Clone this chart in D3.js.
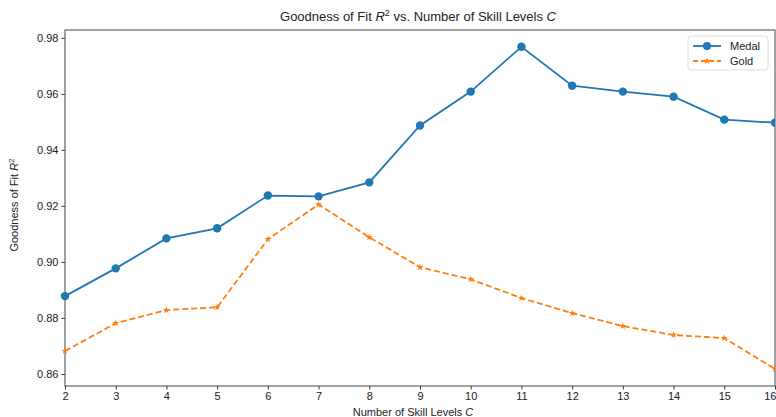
<!DOCTYPE html>
<html>
<head>
<meta charset="utf-8">
<script src="https://cdn.jsdelivr.net/npm/d3@7"></script>
<style>
  body { margin: 0; background: #fff; }
  text { font-family: "Liberation Sans", Arial, sans-serif; fill: #222; }
</style>
</head>
<body>
<div id="chart"></div>
<script>
// skill levels C
const levels = [2, 3, 4, 5, 6, 7, 8, 9, 10, 11, 12, 13, 14, 15, 16];
// goodness of fit R^2
const medal = [0.8878, 0.8977, 0.9084, 0.9120, 0.9237, 0.9234, 0.9284, 0.9487, 0.9608, 0.9768, 0.9629, 0.9608, 0.9590, 0.9508, 0.9497];
const gold = [0.8682, 0.8781, 0.8828, 0.8838, 0.9081, 0.9205, 0.9088, 0.8981, 0.8938, 0.8871, 0.8817, 0.8771, 0.8739, 0.8728, 0.8618];
const yTicks = [0.86, 0.88, 0.90, 0.92, 0.94, 0.96, 0.98];

const W = 776, H = 417;
const margin = {top: 30, right: 1, bottom: 31, left: 65};
const width = W - margin.left - margin.right;
const height = H - margin.top - margin.bottom;

const svg = d3.select("#chart").append("svg")
  .attr("width", W)
  .attr("height", H);

const g = svg.append("g")
  .attr("transform", "translate(" + margin.left + "," + margin.top + ")");

const x = d3.scaleLinear().domain([2, 16]).range([0, width]);
const y = d3.scaleLinear().domain([0.8557, 0.9828]).range([height, 0]);

// axes
const xAxis = g.append("g")
  .attr("transform", "translate(0," + height + ")")
  .call(d3.axisBottom(x).tickValues(levels).tickFormat(d3.format("d")).tickSize(3.5).tickPadding(3));
const yAxis = g.append("g")
  .call(d3.axisLeft(y).tickValues(yTicks).tickFormat(d3.format(".2f")).tickSize(3.5).tickPadding(3));

[xAxis, yAxis].forEach(a => {
  a.select(".domain").remove();
  a.selectAll(".tick line").attr("stroke", "#333");
  a.selectAll(".tick text").style("font-size", "11px").style("fill", "#222");
});
// last x label sits on the window edge; keep it inside
xAxis.selectAll(".tick text").filter(d => d === 16)
  .attr("text-anchor", "end").attr("dx", 1);

// frame
g.append("rect")
  .attr("width", width).attr("height", height)
  .attr("fill", "none").attr("stroke", "#444").attr("stroke-width", 1);

const line = d3.line()
  .x((d, i) => x(levels[i]))
  .y(d => y(d));

g.append("clipPath").attr("id", "clip")
  .append("rect").attr("x", -10).attr("y", -10).attr("width", width + 10).attr("height", height + 20);

const plot = g.append("g").attr("clip-path", "url(#clip)");

plot.append("path").datum(medal)
  .attr("d", line).attr("fill", "none")
  .attr("stroke", "#1f77b4").attr("stroke-width", 1.8);

plot.append("path").datum(gold)
  .attr("d", line).attr("fill", "none")
  .attr("stroke", "#ff7f0e").attr("stroke-width", 1.8)
  .attr("stroke-dasharray", "6,3");

plot.selectAll(".dot").data(medal).enter().append("circle")
  .attr("cx", (d, i) => x(levels[i]))
  .attr("cy", d => y(d))
  .attr("r", 4.2)
  .attr("fill", "#1f77b4");

const star = d3.symbol().type(d3.symbolStar).size(16);
plot.selectAll(".star").data(gold).enter().append("path")
  .attr("d", star)
  .attr("transform", (d, i) => "translate(" + x(levels[i]) + "," + y(d) + ")")
  .attr("fill", "#ff7f0e");

// title
svg.append("text")
  .attr("x", margin.left + width / 2 - 2)
  .attr("y", 21)
  .attr("text-anchor", "middle")
  .style("font-size", "13px")
  .html('Goodness of Fit <tspan font-style="italic">R</tspan><tspan dy="-5" font-size="9px">2</tspan><tspan dy="5"> vs. Number of Skill Levels </tspan><tspan font-style="italic">C</tspan>');

// x label
svg.append("text")
  .attr("x", margin.left + width / 2 - 7)
  .attr("y", H - 1)
  .attr("text-anchor", "middle")
  .style("font-size", "11px")
  .html('Number of Skill Levels <tspan font-style="italic">C</tspan>');

// y label
svg.append("text")
  .attr("transform", "translate(18," + (margin.top + height / 2 - 3) + ") rotate(-90)")
  .attr("text-anchor", "middle")
  .style("font-size", "11px")
  .html('Goodness of Fit <tspan font-style="italic">R</tspan><tspan dy="-4" font-size="8px">2</tspan>');

// legend
const leg = svg.append("g").attr("transform", "translate(688,36)");
leg.append("rect")
  .attr("width", 80).attr("height", 34).attr("rx", 3)
  .attr("fill", "#fff").attr("fill-opacity", 0.8)
  .attr("stroke", "#ddd");
const items = [
  {name: "Medal", color: "#1f77b4", dash: null, marker: "circle"},
  {name: "Gold", color: "#ff7f0e", dash: "5,3", marker: "star"}
];
items.forEach((it, i) => {
  const row = leg.append("g").attr("transform", "translate(0," + (10 + i * 15) + ")");
  row.append("line").attr("x1", 5).attr("x2", 33)
    .attr("stroke", it.color).attr("stroke-width", 1.8)
    .attr("stroke-dasharray", it.dash);
  if (it.marker === "circle") {
    row.append("circle").attr("cx", 19).attr("r", 4).attr("fill", it.color);
  } else {
    row.append("path").attr("d", star).attr("transform", "translate(19,0)").attr("fill", it.color);
  }
  row.append("text").attr("x", 42).attr("y", 4)
    .style("font-size", "11px").text(it.name);
});
</script>
</body>
</html>
